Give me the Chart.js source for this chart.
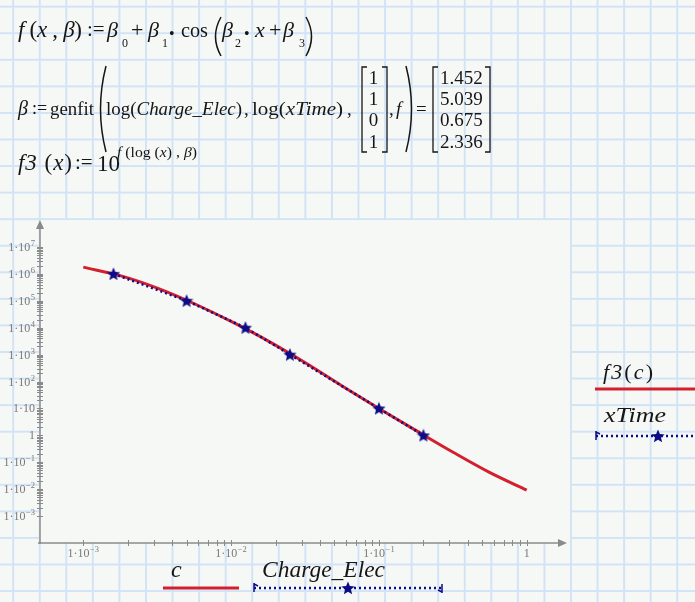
<!DOCTYPE html>
<html>
<head>
<meta charset="utf-8">
<script src="https://cdn.jsdelivr.net/npm/chart.js@4.4.0/dist/chart.umd.min.js"></script>
<style>
html, body { margin: 0; padding: 0; }
body {
    width: 695px; height: 602px; overflow: hidden; position: relative;
    background-color: #f6f8f6;
    background-image:
        linear-gradient(to right, #d3e3f6 0, #d3e3f6 1.6px, transparent 1.6px),
        linear-gradient(to bottom, #d3e3f6 0, #d3e3f6 1.6px, transparent 1.6px);
    background-size: 26.57px 26.57px;
    background-position: 12.2px 0px, 0px 5.7px;
}
#plot { position: absolute; left: 0; top: 0; }
#math { position: absolute; left: 0; top: 0; pointer-events: none; }
</style>
</head>
<body>
<canvas id="plot" width="695" height="602"></canvas>
<svg id="math" width="695" height="602" font-family="Liberation Serif, DejaVu Serif, serif" fill="#161616">
  <!-- f(x,β) := β0 + β1·cos(β2·x + β3) -->
  <text x="18" y="37" font-size="23" textLength="64" lengthAdjust="spacing" xml:space="preserve"><tspan font-style="italic">f</tspan> (<tspan font-style="italic">x</tspan> , <tspan font-style="italic">β</tspan>)</text>
  <text x="87" y="36" font-size="21">:=</text>
  <text x="107" y="37" font-size="22" font-style="italic">β</text><text x="122" y="47" font-size="12">0</text>
  <text x="131" y="37" font-size="22">+</text>
  <text x="148" y="37" font-size="22" font-style="italic">β</text><text x="162" y="47" font-size="12">1</text>
  <text x="169" y="39" font-size="16">•</text>
  <text x="181" y="37" font-size="22" textLength="27" lengthAdjust="spacingAndGlyphs">cos</text>
  <path d="M221,17 Q210,36.5 221,56" fill="none" stroke="#161616" stroke-width="1.5"/>
  <text x="222" y="37" font-size="22" font-style="italic">β</text><text x="235" y="47" font-size="12">2</text>
  <text x="244" y="39" font-size="16">•</text>
  <text x="255" y="37" font-size="22" font-style="italic">x</text>
  <text x="269" y="37" font-size="22">+</text>
  <text x="283" y="37" font-size="22" font-style="italic">β</text><text x="299" y="47" font-size="12">3</text>
  <path d="M306,17 Q317,36.5 306,56" fill="none" stroke="#161616" stroke-width="1.5"/>

  <!-- β := genfit(...) = [...] -->
  <text x="18" y="115" font-size="20" font-style="italic">β</text>
  <text x="32" y="114" font-size="18">:=</text>
  <text x="50" y="115" font-size="19" textLength="44" lengthAdjust="spacingAndGlyphs">genfit</text>
  <path d="M106,66 Q95,109 106,152" fill="none" stroke="#161616" stroke-width="1.5"/>
  <text x="106" y="115" font-size="19" textLength="136" lengthAdjust="spacingAndGlyphs">log(<tspan font-style="italic">Charge_Elec</tspan>)</text>
  <text x="244" y="115" font-size="19">,</text>
  <text x="252" y="115" font-size="19" textLength="91" lengthAdjust="spacingAndGlyphs">log(<tspan font-style="italic">xTime</tspan>)</text>
  <text x="347" y="115" font-size="19">,</text>
  <path d="M367,67 L362,67 L362,152 L367,152" fill="none" stroke="#161616" stroke-width="1.3"/>
  <text x="373.5" y="84" font-size="19" text-anchor="middle">1</text>
  <text x="373.5" y="105" font-size="19" text-anchor="middle">1</text>
  <text x="373.5" y="126" font-size="19" text-anchor="middle">0</text>
  <text x="373.5" y="148" font-size="19" text-anchor="middle">1</text>
  <path d="M382,67 L387,67 L387,152 L382,152" fill="none" stroke="#161616" stroke-width="1.3"/>
  <text x="389" y="115" font-size="19">,</text>
  <text x="396" y="115" font-size="19" font-style="italic">f</text>
  <path d="M406,66 Q417,109 406,152" fill="none" stroke="#161616" stroke-width="1.5"/>
  <text x="416" y="115" font-size="19">=</text>
  <path d="M438,67 L433,67 L433,152 L438,152" fill="none" stroke="#161616" stroke-width="1.3"/>
  <text x="440" y="84" font-size="19">1.452</text>
  <text x="440" y="105" font-size="19">5.039</text>
  <text x="440" y="126" font-size="19">0.675</text>
  <text x="440" y="148" font-size="19">2.336</text>
  <path d="M485,67 L490,67 L490,152 L485,152" fill="none" stroke="#161616" stroke-width="1.3"/>

  <!-- f3(x) := 10^f(log(x),β) -->
  <text x="18" y="170" font-size="23" textLength="54" lengthAdjust="spacing" xml:space="preserve"><tspan font-style="italic">f3</tspan> (<tspan font-style="italic">x</tspan>)</text>
  <text x="75" y="169" font-size="21">:=</text>
  <text x="97" y="171" font-size="23">10</text>
  <text x="117" y="157" font-size="14" textLength="80" lengthAdjust="spacingAndGlyphs"><tspan font-style="italic">f</tspan> (log (<tspan font-style="italic">x</tspan>) , <tspan font-style="italic">β</tspan>)</text>

  <!-- axis expressions -->
  <text x="171" y="577" font-size="24" font-style="italic">c</text>
  <text x="262" y="577" font-size="23" font-style="italic" textLength="123" lengthAdjust="spacingAndGlyphs">Charge_Elec</text>
  <text x="603" y="379" font-size="22" textLength="50" lengthAdjust="spacing"><tspan font-style="italic">f3</tspan>(<tspan font-style="italic">c</tspan>)</text>
  <text x="604" y="422" font-size="22" font-style="italic" textLength="62" lengthAdjust="spacingAndGlyphs">xTime</text>
</svg>
<script>
// fitted curve f3(c)
const c = [0.001, 0.0018, 0.0032, 0.0056, 0.01, 0.018, 0.032, 0.056, 0.1, 0.18, 0.32, 0.56, 1];
const f3c = [1.77e6, 8.4e5, 2.9e5, 7.9e4, 1.7e4, 3100, 485, 70, 10, 1.46, 0.23, 0.042, 0.0092];

// measured points
const chargeElec = [0.0016, 0.005, 0.0125, 0.025, 0.1, 0.2];
const xTime = [1e6, 1e5, 1e4, 1e3, 10, 1];

const xTickValues = [0.001, 0.01, 0.1, 1];
const xTickLabels = ['1·10⁻³', '1·10⁻²', '1·10⁻¹', '1'];
const yTickValues = [1e-3, 1e-2, 1e-1, 1, 10, 100, 1e3, 1e4, 1e5, 1e6, 1e7];
const yTickLabels = ['1·10⁻³', '1·10⁻²', '1·10⁻¹', '1', '1·10', '1·10²', '1·10³', '1·10⁴', '1·10⁵', '1·10⁶', '1·10⁷'];

const RED = '#d3202f';
const NAVY = '#0c0c86';
const AXIS = '#8a8a8a';
const LABEL = '#787878';
const SUP = { '⁻': '−', '⁰': '0', '¹': '1', '²': '2', '³': '3', '⁴': '4', '⁵': '5', '⁶': '6', '⁷': '7', '⁸': '8', '⁹': '9' };

function logTicks(majors) {
    let ticks = [];
    for (let i = 0; i < majors.length; i++) {
        for (let m = 1; m <= 9; m++) {
            if (i === majors.length - 1 && m > 1) break;
            ticks.push({ value: majors[i] * m });
        }
    }
    return ticks;
}

// split '1·10⁻³' into base '1·10' and exponent '−3'
function splitLabel(label) {
    let base = '', exp = '';
    for (let ch of label) {
        if (SUP[ch]) exp += SUP[ch];
        else base += ch;
    }
    return [base, exp];
}

function drawTickLabel(ctx, label, x, y, align) {
    let [base, exp] = splitLabel(label);
    const baseFont = '12px "Liberation Serif", "DejaVu Serif"';
    const expFont = '8.5px "Liberation Serif", "DejaVu Serif"';
    ctx.font = baseFont;
    let wb = ctx.measureText(base).width;
    ctx.font = expFont;
    let we = exp ? ctx.measureText(exp).width + 0.5 : 0;
    let x0 = align === 'right' ? x - wb - we : x - (wb + we) / 2;
    ctx.font = baseFont;
    ctx.fillText(base, x0, y);
    if (exp) {
        ctx.font = expFont;
        ctx.fillText(exp, x0 + wb + 0.5, y - 5);
    }
}

function makeStar(size, color) {
    let cv = document.createElement('canvas');
    cv.width = size;
    cv.height = size;
    let g = cv.getContext('2d');
    let r1 = size / 2, r2 = r1 * 0.45, cx = size / 2, cy = size / 2 + 0.6;
    g.beginPath();
    for (let k = 0; k < 10; k++) {
        let r = k % 2 ? r2 : r1;
        let a = -Math.PI / 2 + k * Math.PI / 5;
        g.lineTo(cx + r * Math.cos(a), cy + r * Math.sin(a));
    }
    g.closePath();
    g.fillStyle = color;
    g.fill();
    return cv;
}

const star = makeStar(14, NAVY);

function dottedSample(ctx, x1, x2, y, starX, rightCap) {
    ctx.save();
    ctx.strokeStyle = NAVY;
    ctx.lineWidth = 2.5;
    ctx.setLineDash([2, 3]);
    ctx.beginPath();
    ctx.moveTo(x1, y);
    ctx.lineTo(x2, y);
    ctx.stroke();
    ctx.setLineDash([]);
    ctx.lineWidth = 1.5;
    ctx.beginPath();
    ctx.moveTo(x1, y - 5); ctx.lineTo(x1, y + 4);
    ctx.moveTo(x1, y - 4); ctx.lineTo(x1 + 4, y - 2);
    if (rightCap) {
        ctx.moveTo(x2, y - 4); ctx.lineTo(x2, y + 5);
        ctx.moveTo(x2, y + 4); ctx.lineTo(x2 - 4, y + 2);
    }
    ctx.stroke();
    ctx.drawImage(star, starX - 7, y - 7);
    ctx.restore();
}

const worksheet = {
    id: 'worksheet',
    beforeDraw(chart) {
        let { ctx, chartArea: a } = chart;
        ctx.save();
        ctx.fillStyle = '#f6f8f5';
        ctx.fillRect(a.left, a.top, a.right - a.left, a.bottom - a.top);
        ctx.restore();
    },
    beforeDatasetsDraw(chart) {
        let { ctx, chartArea: a, scales } = chart;
        ctx.save();
        ctx.strokeStyle = AXIS;
        ctx.fillStyle = AXIS;
        ctx.lineWidth = 1.5;
        ctx.beginPath();
        ctx.moveTo(a.left, a.bottom + 1);
        ctx.lineTo(a.left, a.top + 6);
        ctx.moveTo(a.left - 2, a.bottom);
        ctx.lineTo(a.right - 8, a.bottom);
        ctx.stroke();
        ctx.beginPath();
        ctx.moveTo(a.left, a.top);
        ctx.lineTo(a.left - 4, a.top + 9);
        ctx.lineTo(a.left + 4, a.top + 9);
        ctx.closePath();
        ctx.fill();
        ctx.beginPath();
        ctx.moveTo(a.right - 3, a.bottom);
        ctx.lineTo(a.right - 12, a.bottom - 4);
        ctx.lineTo(a.right - 12, a.bottom + 4);
        ctx.closePath();
        ctx.fill();
        ctx.lineWidth = 1;
        ctx.beginPath();
        scales.y.ticks.forEach(t => {
            let py = Math.round(scales.y.getPixelForValue(t.value)) + 0.5;
            ctx.moveTo(a.left - 3, py);
            ctx.lineTo(a.left + 3, py);
        });
        scales.x.ticks.forEach(t => {
            let px = Math.round(scales.x.getPixelForValue(t.value)) + 0.5;
            ctx.moveTo(px, a.bottom - 3);
            ctx.lineTo(px, a.bottom + 3);
        });
        ctx.stroke();

        ctx.fillStyle = LABEL;
        ctx.textBaseline = 'alphabetic';
        ctx.textAlign = 'left';
        yTickValues.forEach((v, i) => {
            drawTickLabel(ctx, yTickLabels[i], a.left - 5, scales.y.getPixelForValue(v) + 4, 'right');
        });
        xTickValues.forEach((v, i) => {
            drawTickLabel(ctx, xTickLabels[i], scales.x.getPixelForValue(v), a.bottom + 14, 'center');
        });
        ctx.restore();
    },
    afterDraw(chart) {
        let ctx = chart.ctx;
        ctx.save();
        ctx.strokeStyle = RED;
        ctx.lineWidth = 3;
        ctx.beginPath();
        ctx.moveTo(163, 588); ctx.lineTo(239, 588);
        ctx.moveTo(595, 389); ctx.lineTo(695, 389);
        ctx.stroke();
        ctx.restore();
        dottedSample(ctx, 254, 442, 588, 348, true);
        dottedSample(ctx, 596, 695, 436, 658, false);
    }
};

new Chart(document.getElementById('plot'), {
    type: 'scatter',
    data: {
        datasets: [
            {
                label: 'xTime',
                data: chargeElec.map((x, i) => ({ x: x, y: xTime[i] })),
                showLine: true,
                borderColor: NAVY,
                borderWidth: 2.5,
                borderDash: [2, 3],
                pointStyle: star,
                pointRadius: 7,
                tension: 0,
                order: 0
            },
            {
                label: 'f3(c)',
                data: c.map((x, i) => ({ x: x, y: f3c[i] })),
                showLine: true,
                borderColor: RED,
                borderWidth: 3,
                pointRadius: 0,
                cubicInterpolationMode: 'monotone',
                order: 1
            }
        ]
    },
    options: {
        responsive: false,
        animation: false,
        devicePixelRatio: 1,
        layout: { padding: { top: 220, right: 125, bottom: 29, left: 0 } },
        plugins: { legend: { display: false }, tooltip: { enabled: false } },
        scales: {
            x: {
                type: 'logarithmic',
                bounds: 'data',
                min: Math.pow(10, -3.293),
                max: Math.pow(10, 0.293),
                grid: { display: false },
                border: { display: false },
                afterBuildTicks: scale => { scale.ticks = logTicks(xTickValues); },
                afterFit: scale => { scale.height = 30; },
                ticks: { display: false, autoSkip: false }
            },
            y: {
                type: 'logarithmic',
                bounds: 'data',
                min: 1e-4,
                max: 1e8,
                grid: { display: false },
                border: { display: false },
                afterBuildTicks: scale => { scale.ticks = logTicks(yTickValues); },
                afterFit: scale => { scale.width = 40; },
                ticks: { display: false, autoSkip: false }
            }
        }
    },
    plugins: [worksheet]
});
</script>
</body>
</html>
